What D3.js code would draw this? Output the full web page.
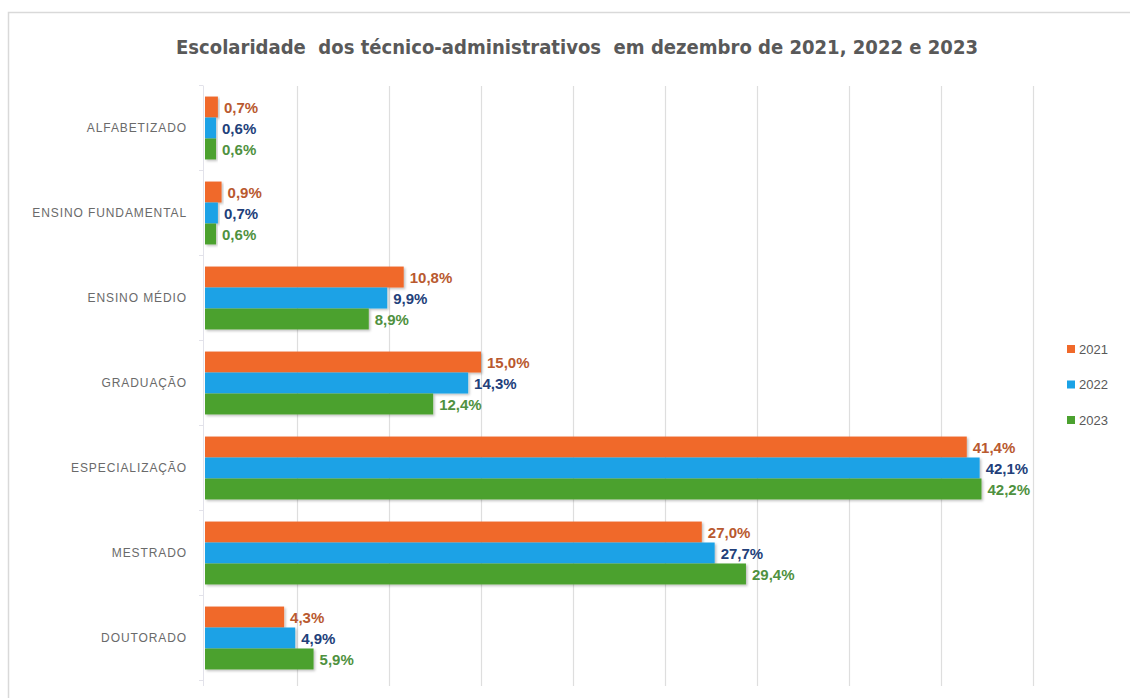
<!DOCTYPE html>
<html>
<head>
<meta charset="utf-8">
<script src="https://cdn.jsdelivr.net/npm/d3@7"></script>
<style>
  html, body { margin: 0; padding: 0; background: #fff; }
  svg { display: block; }
</style>
</head>
<body>
<svg id="chart" width="1130" height="698"></svg>
<script>
const categories = ["ALFABETIZADO", "ENSINO FUNDAMENTAL", "ENSINO MÉDIO", "GRADUAÇÃO", "ESPECIALIZAÇÃO", "MESTRADO", "DOUTORADO"];
const years = ["2021", "2022", "2023"];
const values2021 = [0.7, 0.9, 10.8, 15.0, 41.4, 27.0, 4.3];
const values2022 = [0.6, 0.7, 9.9, 14.3, 42.1, 27.7, 4.9];
const values2023 = [0.6, 0.6, 8.9, 12.4, 42.2, 29.4, 5.9];
const xTicks = [0, 5, 10, 15, 20, 25, 30, 35, 40, 45];
const titleText = "Escolaridade  dos técnico-administrativos  em dezembro de 2021, 2022 e 2023";

const seriesValues = [values2021, values2022, values2023];
const barColors = ["#F0692A", "#1AA2E6", "#4BA12F"];
const labelColors = ["#B9592F", "#22407A", "#4F9140"];

const svg = d3.select("#chart");

// outer border (extends beyond the canvas on right/bottom)
svg.append("rect").attr("x", 8.5).attr("y", 12.5).attr("width", 1200).attr("height", 800)
  .attr("fill", "#fff").attr("stroke", "#d9d9d9").attr("stroke-width", 1.5);

const x = d3.scaleLinear().domain([0, 45]).range([205, 1033]);
const y = d3.scaleBand().domain(categories).range([85.5, 680.5]).paddingInner(0.26).paddingOuter(0.13);
const ySub = d3.scaleBand().domain(years).range([0, y.bandwidth()]);

// gridlines
svg.append("g").selectAll("line").data(xTicks.slice(1)).join("line")
  .attr("x1", d => x(d) + 0.5).attr("x2", d => x(d) + 0.5)
  .attr("y1", 86).attr("y2", 686)
  .attr("stroke", "#dedede").attr("stroke-width", 1.2);

// zero axis line
svg.append("line").attr("x1", x(0) - 1.5).attr("x2", x(0) - 1.5).attr("y1", 86).attr("y2", 686)
  .attr("stroke", "#e2e2ea").attr("stroke-width", 1);
const boundaries = d3.range(categories.length + 1).map(i => 85.5 + i * y.step());
svg.append("g").selectAll("line").data(boundaries).join("line")
  .attr("x1", x(0) - 6).attr("x2", x(0) - 1.5)
  .attr("y1", d => d).attr("y2", d => d)
  .attr("stroke", "#e2e2ea").attr("stroke-width", 1);

// shadow filter
const defs = svg.append("defs");
const f = defs.append("filter").attr("id", "sh").attr("x", "-5%").attr("y", "-20%").attr("width", "115%").attr("height", "160%");
f.append("feDropShadow").attr("dx", 1.5).attr("dy", 1.5).attr("stdDeviation", 1.2).attr("flood-color", "#000").attr("flood-opacity", 0.25);

// bars
const groups = svg.append("g").selectAll("g").data(categories).join("g")
  .attr("transform", c => `translate(0,${y(c)})`);

years.forEach((yr, si) => {
  groups.append("rect")
    .attr("x", x(0))
    .attr("y", ySub(yr))
    .attr("width", (c, i) => x(seriesValues[si][i]) - x(0))
    .attr("height", ySub.bandwidth())
    .attr("fill", barColors[si])
    .attr("filter", "url(#sh)");
});

years.forEach((yr, si) => {
  groups.append("text")
    .attr("x", (c, i) => x(seriesValues[si][i]) + 6)
    .attr("y", ySub(yr) + ySub.bandwidth() / 2 + 1)
    .attr("dy", "0.36em")
    .attr("fill", labelColors[si])
    .style("font-family", "'Liberation Sans', Arial, sans-serif")
    .style("font-weight", "bold")
    .style("font-size", "15px")
    .text((c, i) => seriesValues[si][i].toFixed(1).replace(".", ",") + "%");
});

// category labels
svg.append("g").selectAll("text").data(categories).join("text")
  .attr("x", 187)
  .attr("y", c => y(c) + y.bandwidth() / 2)
  .attr("dy", "0.36em")
  .attr("text-anchor", "end")
  .attr("fill", "#6a6a6a")
  .style("font-family", "'Liberation Sans', Arial, sans-serif")
  .style("font-size", "12px")
  .style("letter-spacing", "0.9px")
  .text(c => c);

// title
svg.append("text")
  .attr("x", 176).attr("y", 47).attr("dy", "0.35em")
  .attr("textLength", 802).attr("lengthAdjust", "spacingAndGlyphs")
  .attr("fill", "#595959")
  .style("white-space", "pre")
  .style("font-family", "'DejaVu Sans Condensed', 'Liberation Sans Narrow', sans-serif")
  .style("font-weight", "bold")
  .style("font-size", "19.5px")
  .text(titleText);

// legend
const legendY = d3.scalePoint().domain(years).range([349, 420]);
const lg = svg.append("g").selectAll("g").data(years).join("g")
  .attr("transform", d => `translate(1067,${legendY(d)})`);
lg.append("rect").attr("x", 0).attr("y", -4).attr("width", 8).attr("height", 8)
  .attr("fill", (d, i) => barColors[i]);
lg.append("text").attr("x", 12).attr("y", 0).attr("dy", "0.36em")
  .attr("fill", "#595959")
  .style("font-family", "'Liberation Sans', Arial, sans-serif")
  .style("font-size", "13px")
  .text(d => d);
</script>
</body>
</html>
